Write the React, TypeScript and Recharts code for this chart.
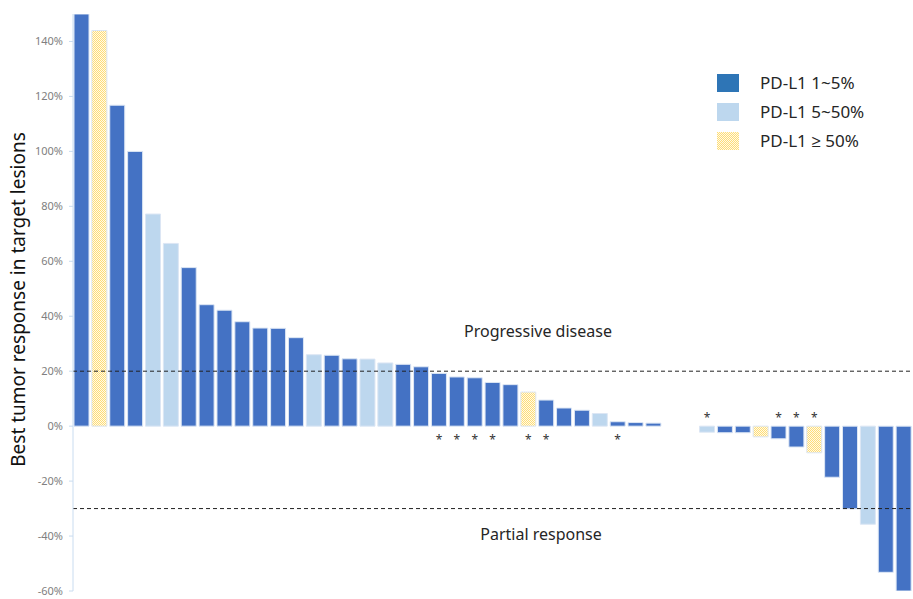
import React from "react";
import { BarChart, Bar, XAxis, YAxis, Cell, ReferenceLine, LabelList } from "recharts";

const responses: (number | null)[] = [
  150, 144, 116.8, 100, 77.2, 66.5, 57.7, 44.2, 42.2, 38, 35.7, 35.6, 32.2, 26, 25.8, 24.5,
  24.4, 23, 22.5, 21.6, 19.2, 17.9, 17.6, 15.9, 15.1, 12.4, 9.5, 6.6, 5.8, 4.6, 1.6, 1.3, 1.1,
  null, null, -2.2, -2.4, -2.4, -3.9, -4.6, -7.6, -9.7, -18.6, -30.1, -35.7, -53.2, -60,
];

const groups: string[] = [
  "low", "high", "low", "low", "mid", "mid", "low", "low", "low", "low", "low", "low", "low", "mid", "low", "low",
  "mid", "mid", "low", "low", "low", "low", "low", "low", "low", "high", "low", "low", "low", "mid", "low", "low", "low",
  "low", "low", "mid", "low", "low", "high", "low", "low", "high", "low", "low", "mid", "low", "low",
];

const starred: boolean[] = [
  false, false, false, false, false, false, false, false, false, false, false, false, false, false, false, false,
  false, false, false, false, true, true, true, true, false, true, true, false, false, false, true, false, false,
  false, false, true, false, false, false, true, true, true, false, false, false, false, false,
];

const yTicks = [-60, -40, -20, 0, 20, 40, 60, 80, 100, 120, 140];

const legendItems = [
  { key: "low", label: "PD-L1 1~5%", swatch: "#2E75B6" },
  { key: "mid", label: "PD-L1 5~50%", swatch: "#BDD7EE" },
  { key: "high", label: "PD-L1 \u2265 50%", swatch: "url(#checkerLeg)" },
];

const barFill: Record<string, string> = {
  low: "#4472C4",
  mid: "#BDD7EE",
  high: "url(#checker)",
};

const data = responses.map((v, i) => ({
  id: `P${i + 1}`,
  value: v,
  group: groups[i],
  star: starred[i] ? "*" : "",
}));

const FONT = "'Noto Sans', 'Open Sans', sans-serif";

const StarLabel = (props: any) => {
  const { x, y, width, height, value } = props;
  if (!value) return null;
  const zero = Number(y) + Number(height);
  const cx = Number(x) + Number(width) / 2;
  const neg = Number(height) < 0;
  return (
    <text x={cx} y={neg ? zero - 4 : zero + 18} textAnchor="middle" fontSize={12} fill="#333" fontFamily={FONT}>
      *
    </text>
  );
};

const CheckerPattern = ({ id }: { id: string }) => (
  <pattern id={id} width="2" height="2" patternUnits="userSpaceOnUse">
    <rect width="2" height="2" fill="#FFFAE8" />
    <rect x="0" y="0" width="1" height="1" fill="#FFDD77" />
    <rect x="1" y="1" width="1" height="1" fill="#FFDD77" />
  </pattern>
);

const LegendBox = () => (
  <svg width={195} height={100} style={{ position: "absolute", left: 715, top: 66 }}>
    <defs>
      <CheckerPattern id="checkerLeg" />
    </defs>
    {legendItems.map((it, i) => (
      <g key={it.key}>
        <rect x={2} y={8 + i * 29} width={22} height={18} fill={it.swatch} />
        <text x={45} y={23 + i * 29} fontSize={17} fill="#262626" fontFamily={FONT}>
          {it.label}
        </text>
      </g>
    ))}
  </svg>
);

export default function App() {
  return (
    <div style={{ position: "absolute", left: 0, top: 0, width: 913, height: 599, background: "#fff" }}>
      <BarChart width={913} height={599} data={data} margin={{ top: 14, right: 0, bottom: 8, left: 0 }} barSize={15}>
        <defs>
          <CheckerPattern id="checker" />
        </defs>
        <XAxis dataKey="id" hide />
        <YAxis
          width={73}
          domain={[-60, 150]}
          ticks={yTicks}
          allowDataOverflow
          interval={0}
          tickFormatter={(v: number) => `${v}%`}
          tick={{ fill: "#808080", fontSize: 11, fontFamily: FONT }}
          tickSize={4}
          tickMargin={6}
          axisLine={{ stroke: "#C9DCF0" }}
          tickLine={{ stroke: "#C9DCF0" }}
          label={(p: any) => {
            const vb = p.viewBox || {};
            const cy = (vb.y ?? 14) + (vb.height ?? 577) / 2 - 3;
            return (
              <text
                transform={`translate(18, ${cy}) rotate(-90)`}
                textAnchor="middle"
                dominantBaseline="central"
                fontSize={19}
                fill="#111"
                fontFamily={FONT}
              >
                Best tumor response in target lesions
              </text>
            );
          }}
        />
        <ReferenceLine
          y={20}
          stroke="#222"
          strokeDasharray="4 3"
          label={(p: any) => {
            const vb = p.viewBox || {};
            return (
              <text x={538} y={(vb.y ?? 371) - 40} textAnchor="middle" dominantBaseline="central" fontSize={16} fill="#262626" fontFamily={FONT}>
                Progressive disease
              </text>
            );
          }}
        />
        <ReferenceLine
          y={-30}
          stroke="#222"
          strokeDasharray="4 3"
          label={(p: any) => {
            const vb = p.viewBox || {};
            return (
              <text x={541} y={(vb.y ?? 508) + 25} textAnchor="middle" dominantBaseline="central" fontSize={16} fill="#262626" fontFamily={FONT}>
                Partial response
              </text>
            );
          }}
        />
        <Bar dataKey="value" isAnimationActive={false} stroke="#DCE6F4" strokeWidth={1}>
          {data.map((d) => (
            <Cell key={d.id} fill={barFill[d.group]} />
          ))}
          <LabelList dataKey="star" content={StarLabel} />
        </Bar>
      </BarChart>
      <LegendBox />
    </div>
  );
}
